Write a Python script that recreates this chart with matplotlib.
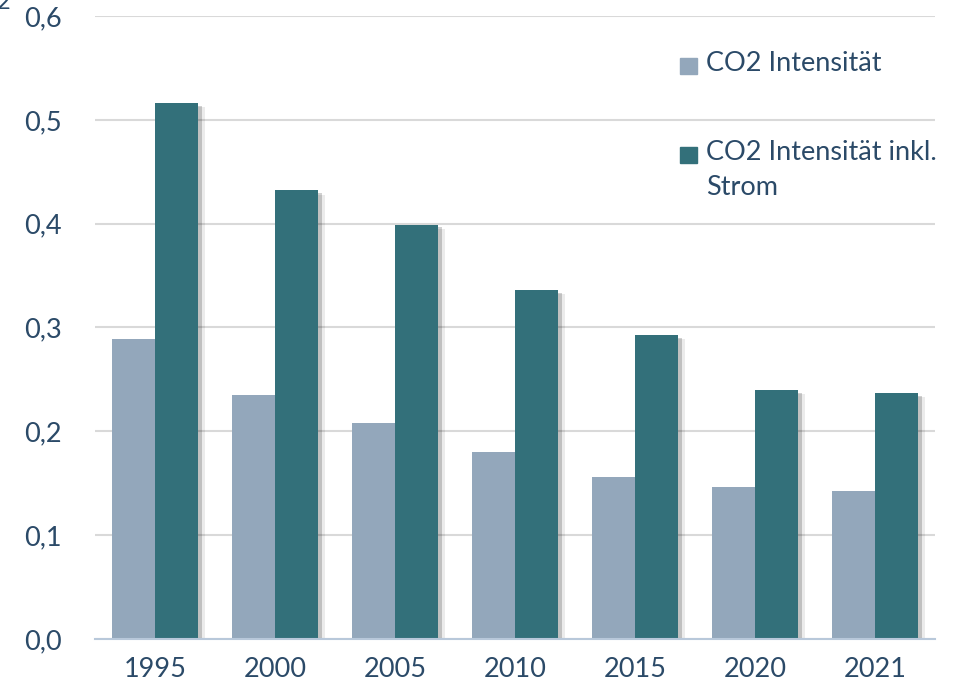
import matplotlib
matplotlib.use("Agg")
import matplotlib.pyplot as plt
import matplotlib.patheffects as pe
from matplotlib.patches import Rectangle
import numpy as np

years = ["1995", "2000", "2005", "2010", "2015", "2020", "2021"]
co2_int = [0.289, 0.235, 0.208, 0.180, 0.156, 0.146, 0.143]
co2_int_strom = [0.516, 0.432, 0.399, 0.336, 0.293, 0.240, 0.237]
series_labels = ["CO2 Intensität", "CO2 Intensität inkl.\nStrom"]
yticks = [0.0, 0.1, 0.2, 0.3, 0.4, 0.5, 0.6]

c_light = "#93a7bb"
c_dark = "#33707a"
txt = "#2b4a68"
plt.rcParams['font.family'] = ['Lato', 'DejaVu Sans']
FS = 19.5

W, H = 979, 694
fig = plt.figure(figsize=(W/100, H/100), dpi=100)
ax = fig.add_axes([95/W, (H-639)/H, 840/W, (639-16)/H])

x = np.arange(len(years))
bw = 0.355
shadow = [pe.SimplePatchShadow(offset=(3, -2), shadow_rgbFace='black', alpha=0.18),
          pe.SimplePatchShadow(offset=(5, -3), shadow_rgbFace='black', alpha=0.08),
          pe.Normal()]
b1 = ax.bar(x - bw/2, co2_int, bw, color=c_light, zorder=3)
b2 = ax.bar(x + bw/2, co2_int_strom, bw, color=c_dark, zorder=3)
for b in list(b2):
    b.set_path_effects(shadow)

ax.set_xlim(-0.5, len(years) - 0.5)
ax.set_ylim(0, 0.6)
ax.set_yticks(yticks)
ax.set_yticklabels([f"{v:.1f}".replace(".", ",") for v in yticks])
ax.set_xticks(x)
ax.set_xticklabels(years)
ax.yaxis.grid(True, color="#d9d9d9", linewidth=1.5, zorder=0)
ax.set_axisbelow(True)
for s in ["top", "right", "left"]:
    ax.spines[s].set_visible(False)
ax.spines["bottom"].set_color("#b8c8da")
ax.spines["bottom"].set_linewidth(1.5)
ax.spines["bottom"].set_zorder(4)
ax.tick_params(axis="y", length=0, pad=24, labelsize=FS, labelcolor=txt)
ax.tick_params(axis="x", length=0, pad=13, labelsize=FS, labelcolor=txt)

# legend drawn manually
leg_items = [(c_light, series_labels[0], 66), (c_dark, series_labels[1], 155)]
for col, lab, yc in leg_items:
    fig.patches.append(Rectangle((680/W, 1 - (yc+8)/H), 17/W, 16/H,
                                 transform=fig.transFigure, color=col, figure=fig))
    fig.text(706/W, 1 - (yc - 15)/H, lab, fontsize=FS, color=txt, va="top",
             ha="left", linespacing=1.5)

fig.text(-0.003, 1 - 9/H, "2", fontsize=17, color=txt, va="baseline", ha="left")

fig.savefig("out.png", dpi=100)
